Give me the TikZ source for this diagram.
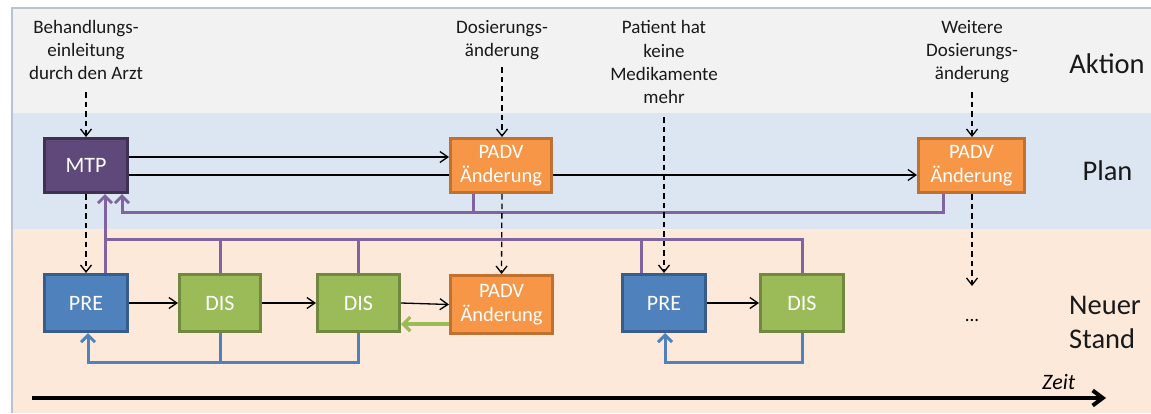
\documentclass[tikz,border=0pt]{standalone}
\usepackage{fontspec}
\setmainfont{Carlito}
\usetikzlibrary{arrows.meta,calc}
\definecolor{aktbg}{HTML}{F2F2F2}
\definecolor{planbg}{HTML}{DCE6F2}
\definecolor{neubg}{HTML}{FDE9D9}
\definecolor{framec}{HTML}{B7C3D3}
\definecolor{mtpfill}{HTML}{5F497A}
\definecolor{mtpdraw}{HTML}{3F3151}
\definecolor{padvfill}{HTML}{F79646}
\definecolor{padvdraw}{HTML}{C0702F}
\definecolor{prefill}{HTML}{4F81BD}
\definecolor{predraw}{HTML}{385D8A}
\definecolor{disfill}{HTML}{9BBB59}
\definecolor{disdraw}{HTML}{71893F}
\definecolor{purln}{HTML}{8064A2}
\definecolor{bluln}{HTML}{4F81BD}
\definecolor{grnln}{HTML}{9BBB59}
\pgfdeclarelayer{back}
\pgfdeclarelayer{mid}
\pgfsetlayers{back,mid,main}
\begin{document}
\begin{tikzpicture}[x=1pt,y=-1pt,
  box/.style={draw, line width=2.6pt, inner sep=0pt, text=white, align=center,
    font=\fontsize{22}{24}\selectfont},
  mtpbox/.style={box, fill=mtpfill, draw=mtpdraw},
  padvbox/.style={box, fill=padvfill, draw=padvdraw, font=\fontsize{20.5}{24}\selectfont},
  prebox/.style={box, fill=prefill, draw=predraw},
  disbox/.style={box, fill=disfill, draw=disdraw},
  lbl/.style={inner sep=0pt, align=center, anchor=north, text=black!90, font=\fontsize{19}{23.3}\selectfont},
  biglbl/.style={inner sep=0pt, text=black!90, font=\fontsize{28.5}{34}\selectfont},
  blk/.style={line width=1.3pt, -{Straight Barb[length=8pt,width=11pt]}},
  dsh/.style={line width=1.3pt, dash pattern=on 5.5pt off 4pt, -{Straight Barb[length=7pt,width=11pt]}},
  pur/.style={draw=purln, line width=3pt},
  blu/.style={draw=bluln, line width=3pt},
  grn/.style={draw=grnln, line width=3.2pt},
  thicktip/.style={-{Straight Barb[length=7pt,width=14pt]}}
]
\useasboundingbox (0,0) rectangle (1151,413);
\begin{pgfonlayer}{back}
  \fill[aktbg] (12,8) rectangle (1151,113);
  \fill[planbg] (12,113) rectangle (1151,229);
  \fill[neubg] (12,229) rectangle (1151,413);
  \draw[framec, line width=2pt] (12,413) -- (12,8) -- (1151,8);
\end{pgfonlayer}

% helper coordinates (horizontal levels)
\coordinate (h157) at (0,157);
\coordinate (h175) at (0,175);
\coordinate (h212) at (0,212);
\coordinate (h239) at (0,239);
\coordinate (h324) at (0,324);
\coordinate (h362) at (0,362);

% nodes
\node[mtpbox, minimum width=83.4pt, minimum height=54.4pt] (mtp) at (86,165.5) {MTP};
\node[padvbox, minimum width=101.4pt, minimum height=54.4pt] (padv1) at (501,165.5) {PADV\\Änderung};
\node[padvbox, minimum width=106.4pt, minimum height=54.4pt] (padv2) at (971.5,165.5) {PADV\\Änderung};
\node[prebox, minimum width=83.4pt, minimum height=57.4pt] (pre1) at (86,303) {PRE};
\node[disbox, minimum width=81.4pt, minimum height=57.4pt] (dis1) at (220,303) {DIS};
\node[disbox, minimum width=82.4pt, minimum height=57.4pt] (dis2) at (358.5,303) {DIS};
\node[padvbox, minimum width=102.4pt, minimum height=58.4pt] (padv3) at (501.5,304.5) {PADV\\Änderung};
\node[prebox, minimum width=83.4pt, minimum height=57.4pt] (pre2) at (664,303) {PRE};
\node[disbox, minimum width=83.4pt, minimum height=57.4pt] (dis3) at (802,303) {DIS};

% action labels
\node[lbl] (l1) at (86,20) {Behandlungs-\\einleitung\\durch den Arzt};
\node[lbl] (l2) at (502,20) {Dosierungs-\\änderung};
\node[lbl] (l3) at (664,20.5) {Patient hat\\keine\\Medikamente\\mehr};
\node[lbl] (l4) at (972,20) {Weitere\\Dosierungs-\\änderung};

% row labels
\node[biglbl, anchor=base] (akt) at (1107,73) {Aktion};
\node[biglbl, anchor=base] (plan) at (1107.5,180) {Plan};
\node[biglbl, anchor=north west, align=left] (neu) at (1069,296.5) {Neuer\\Stand};
\node[inner sep=0pt, anchor=base, font=\fontsize{19}{23}\selectfont] (dots) at (972,321) {...};
\node[inner sep=0pt, anchor=base west, font=\fontsize{22}{24}\selectfont\itshape] (zeit) at (1042,389) {Zeit};

% plan arrows
\begin{pgfonlayer}{mid}
  \draw[blk] (mtp.east |- h175) -- (padv2.west |- h175);
\end{pgfonlayer}
\draw[blk] (mtp.east |- h157) -- (padv1.west |- h157);

% purple feedback to MTP from PADV nodes
\draw[pur, thicktip] ([xshift=-28pt]padv1.south) |- ([xshift=36pt]mtp.south |- h212) -- ([xshift=36pt]mtp.south);
\draw[pur] ([xshift=-28.5pt]padv2.south) |- ([xshift=-28pt]padv1.south |- h212);

% purple feedback from Neuer Stand
\draw[pur, thicktip] ([xshift=19pt]pre1.north) -- ([xshift=19pt]mtp.south);
\draw[pur] ([xshift=19pt]pre1.north |- h239) -| (dis3.north);
\draw[pur] (dis1.north) -- (dis1.north |- h239);
\draw[pur] (dis2.north) -- (dis2.north |- h239);
\draw[pur] ([xshift=-23pt]pre2.north) -- ([xshift=-23pt]pre2.north |- h239);

% blue feedback
\draw[blu] (dis1.south) -- (dis1.south |- h362);
\draw[blu, thicktip] (dis2.south) |- ([xshift=2pt]pre1.south |- h362) -- ([xshift=2pt]pre1.south);
\draw[blu, thicktip] (dis3.south) |- ([xshift=1pt]pre2.south |- h362) -- ([xshift=1pt]pre2.south);

% green
\draw[grn, thicktip] (padv3.west |- h324) -- (dis2.east |- h324);

% flow arrows
\draw[blk] (pre1.east) -- (dis1.west);
\draw[blk] (dis1.east) -- (dis2.west);
\draw[blk] (dis2.east) -- (padv3.west);
\draw[blk] (pre2.east) -- (dis3.west);

% dashed arrows
\draw[dsh] ([yshift=45pt]mtp.north) -- (mtp.north);
\draw[dsh] (mtp.south) -- (pre1.north);
\draw[dsh] ([xshift=1pt,yshift=70pt]padv1.north) -- ([xshift=1pt]padv1.north);
\draw[dsh] ([xshift=1pt]padv1.south) -- (padv3.north);
\draw[dsh] ([yshift=156pt]pre2.north) -- (pre2.north);
\draw[dsh] ([xshift=0.5pt,yshift=45pt]padv2.north) -- ([xshift=0.5pt]padv2.north);
\coordinate (dend) at (972,286);
\draw[dsh] ([xshift=0.5pt]padv2.south) -- (dend);

% time axis
\coordinate (t0) at (32,398);
\coordinate (t1) at (1106,398);
\draw[line width=4pt, -{Straight Barb[length=10pt,width=15pt]}] (t0) -- (t1);
\end{tikzpicture}
\end{document}
